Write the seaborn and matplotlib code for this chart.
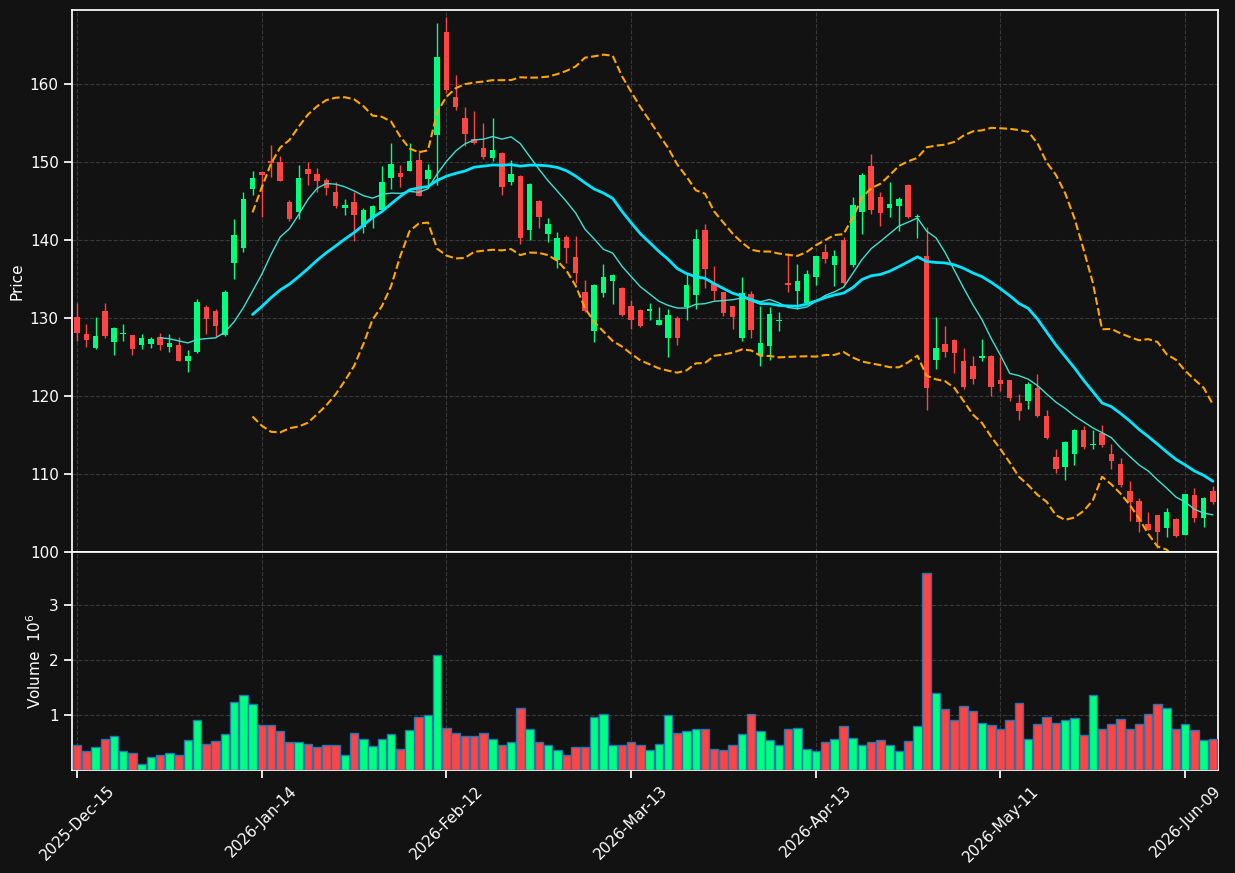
import matplotlib
matplotlib.use("Agg")
import matplotlib.pyplot as plt
import seaborn as sns
import numpy as np
import pandas as pd

# OHLC (one bar per trading day)
opens = [130.1, 127.9, 126.2, 130.9, 126.9, 127.9, 127.8, 126.6, 126.7, 127.6,
         126.3, 126.5, 124.5, 125.6, 131.4, 130.9, 127.8, 137.0, 139.0, 146.5,
         148.7, 150.1, 150.0, 144.9, 143.6, 149.1, 148.5, 147.7, 146.2, 144.1,
         144.9, 141.7, 142.8, 143.9, 147.9, 148.6, 148.9, 150.3, 147.8, 153.5,
         166.7, 158.3, 155.7, 153.0, 151.8, 150.5, 151.1, 147.4, 148.2, 141.3,
         145.0, 140.8, 137.4, 140.4, 137.8, 133.3, 128.4, 133.2, 134.7, 133.9,
         131.6, 131.0, 130.9, 129.1, 127.5, 130.0, 131.4, 132.9, 141.3, 134.4,
         133.3, 131.5, 127.5, 133.1, 125.2, 126.4, 129.6, 134.45, 133.5, 131.9,
         135.3, 138.5, 136.8, 140.0, 136.8, 143.6, 149.5, 145.5, 144.1, 144.4,
         147.1, 142.9, 138.0, 124.6, 126.7, 127.2, 124.5, 123.8, 124.9, 125.1,
         122.05, 122.0, 119.1, 119.4, 121.0, 117.4, 112.2, 110.9, 112.6, 115.6,
         113.7, 115.3, 112.6, 111.3, 107.8, 106.5, 103.6, 104.7, 103.1, 104.2,
         102.2, 107.3, 104.3, 107.8]
highs = [131.9, 129.2, 130.1, 131.9, 128.8, 129.2, 127.8, 127.9, 127.6, 128.1,
         127.9, 127.6, 125.9, 132.4, 131.7, 131.2, 133.6, 142.7, 146.1, 148.9,
         148.8, 152.2, 150.8, 145.1, 149.6, 150.0, 149.2, 147.9, 147.5, 145.3,
         146.2, 144.1, 144.5, 149.5, 152.4, 149.6, 152.4, 151.5, 149.8, 167.8,
         168.6, 161.2, 157.1, 156.5, 155.0, 155.6, 151.3, 150.3, 148.4, 147.3,
         145.1, 142.8, 141.0, 140.6, 140.5, 134.9, 134.3, 136.9, 135.6, 134.0,
         132.3, 131.1, 131.9, 131.4, 131.2, 130.2, 135.7, 141.4, 142.1, 136.7,
         133.4, 131.6, 135.2, 133.5, 131.5, 131.4, 130.8, 138.3, 136.9, 136.1,
         137.9, 139.5, 138.7, 140.4, 145.5, 148.6, 151.0, 146.2, 147.4, 145.5,
         147.2, 143.3, 141.7, 130.1, 129.0, 127.3, 126.1, 125.1, 127.3, 125.2,
         125.0, 122.1, 120.3, 121.8, 122.8, 118.2, 113.2, 114.2, 115.8, 116.2,
         115.6, 116.3, 113.8, 112.0, 109.1, 106.9, 105.1, 104.8, 105.6, 104.4,
         107.4, 108.2, 107.1, 108.4]
lows = [127.0, 126.3, 126.0, 127.5, 125.3, 127.1, 125.3, 126.0, 126.2, 125.9,
        125.7, 124.5, 123.1, 125.5, 128.0, 127.6, 127.7, 135.0, 138.5, 145.8,
        143.0, 148.1, 147.6, 142.5, 142.7, 147.1, 146.1, 145.8, 144.1, 143.2,
        139.9, 140.9, 141.6, 143.8, 146.5, 146.8, 148.9, 145.6, 147.1, 147.1,
        158.9, 156.7, 152.0, 152.3, 150.4, 150.1, 145.8, 147.0, 139.5, 140.0,
        141.6, 139.8, 136.4, 137.0, 134.5, 130.8, 126.9, 132.7, 131.8, 130.2,
        128.6, 128.9, 129.7, 129.1, 125.0, 126.6, 129.7, 131.2, 133.8, 132.3,
        130.2, 128.6, 127.1, 127.5, 123.9, 124.6, 128.4, 133.4, 131.2, 131.8,
        134.2, 137.1, 134.1, 134.4, 136.6, 140.8, 143.3, 141.8, 143.0, 141.1,
        142.8, 140.3, 118.2, 123.5, 125.0, 123.0, 120.9, 121.6, 124.5, 120.0,
        120.7, 119.4, 116.9, 118.3, 117.3, 114.5, 110.1, 109.2, 111.1, 113.2,
        113.2, 113.4, 110.7, 108.3, 104.0, 102.6, 102.8, 100.5, 101.9, 101.9,
        102.2, 103.9, 103.2, 106.2]
closes = [128.1, 127.2, 127.7, 127.7, 128.7, 128.0, 126.0, 127.4, 127.3, 126.6,
          126.8, 124.5, 125.1, 132.0, 129.9, 129.0, 133.3, 140.6, 145.3, 147.9,
          148.4, 149.9, 147.6, 142.7, 147.9, 148.5, 147.6, 146.7, 144.4, 144.5,
          143.2, 143.8, 144.4, 147.4, 149.7, 148.1, 150.1, 145.6, 149.0, 163.5,
          159.2, 157.1, 153.6, 152.5, 150.6, 151.5, 146.8, 148.5, 140.3, 147.2,
          143.0, 142.1, 140.3, 139.0, 135.8, 130.9, 134.2, 135.3, 135.5, 130.4,
          129.7, 129.0, 131.1, 129.7, 130.4, 127.5, 134.2, 140.1, 136.3, 133.5,
          130.6, 130.1, 133.2, 128.5, 126.8, 130.5, 129.8, 134.2, 134.7, 135.6,
          137.9, 137.6, 137.9, 134.5, 144.5, 148.3, 143.8, 143.5, 144.6, 145.3,
          142.9, 143.0, 121.0, 126.1, 125.6, 125.5, 121.1, 122.2, 125.1, 121.1,
          121.5, 119.8, 118.1, 121.6, 117.5, 114.65, 110.6, 114.1, 115.6, 113.4,
          113.8, 113.7, 111.7, 108.6, 106.4, 103.8, 102.8, 102.6, 105.1, 102.0,
          107.4, 104.3, 106.9, 106.4]
# volume in millions
volumes = [0.46, 0.34, 0.41, 0.56, 0.61, 0.34, 0.30, 0.10, 0.23, 0.28,
           0.30, 0.27, 0.54, 0.90, 0.48, 0.52, 0.65, 1.24, 1.37, 1.19,
           0.81, 0.81, 0.70, 0.50, 0.50, 0.48, 0.41, 0.46, 0.46, 0.28,
           0.68, 0.57, 0.43, 0.57, 0.66, 0.39, 0.72, 0.97, 0.99, 2.09,
           0.77, 0.68, 0.61, 0.61, 0.68, 0.57, 0.46, 0.50, 1.13, 0.75,
           0.50, 0.46, 0.36, 0.27, 0.41, 0.41, 0.97, 1.02, 0.46, 0.45,
           0.50, 0.45, 0.36, 0.48, 0.99, 0.68, 0.70, 0.75, 0.74, 0.39,
           0.36, 0.46, 0.66, 1.02, 0.70, 0.54, 0.45, 0.74, 0.77, 0.39,
           0.34, 0.50, 0.56, 0.79, 0.59, 0.46, 0.50, 0.54, 0.46, 0.34,
           0.52, 0.79, 3.57, 1.40, 1.10, 0.90, 1.17, 1.08, 0.86, 0.81,
           0.74, 0.90, 1.22, 0.56, 0.84, 0.97, 0.86, 0.90, 0.95, 0.63,
           1.37, 0.75, 0.84, 0.93, 0.74, 0.83, 1.01, 1.19, 1.13, 0.74,
           0.83, 0.72, 0.54, 0.56]

tick_pos = [0, 20, 40, 60, 80, 100, 120]
tick_labels = ['2025-Dec-15', '2026-Jan-14', '2026-Feb-12', '2026-Mar-13',
               '2026-Apr-13', '2026-May-11', '2026-Jun-09']

df = pd.DataFrame({'Open': opens, 'High': highs, 'Low': lows,
                   'Close': closes, 'Volume': volumes})
df['idx'] = np.arange(len(df))
df['dir'] = np.where(df['Close'] >= df['Open'], 'up', 'down')
df['ma10'] = df['Close'].rolling(10).mean()
df['ma20'] = df['Close'].rolling(20).mean()
sd = df['Close'].rolling(20).std()
df['bb_up'] = df['ma20'] + 2 * sd
df['bb_lo'] = df['ma20'] - 2 * sd

BG = '#121212'
UP = '#00ff7f'
DOWN = '#ff4444'
colors = {'up': UP, 'down': DOWN}

sns.set_theme(style='dark', rc={
    'figure.facecolor': BG, 'axes.facecolor': BG, 'axes.edgecolor': 'white',
    'axes.labelcolor': 'white', 'xtick.color': 'white', 'ytick.color': 'white',
    'text.color': 'white', 'grid.color': '#3a3a3a', 'grid.linestyle': '--',
    'axes.grid': True, 'xtick.bottom': True, 'ytick.left': True,
})

fig = plt.figure(figsize=(12.35, 8.73), dpi=100)
ax = fig.add_axes([0.0583, 0.3677, 0.9279, 0.6209])
axv = fig.add_axes([0.0583, 0.1180, 0.9279, 0.2497], sharex=ax)

# candles
cc = df['dir'].map(colors)
ax.vlines(df['idx'], df['Low'], df['High'], colors=cc, lw=1, zorder=3)
body_lo = np.minimum(df['Open'], df['Close'])
body_h = np.maximum(np.abs(df['Close'] - df['Open']), 0.12)
ax.bar(df['idx'], body_h, bottom=body_lo, width=0.6, color=cc,
       edgecolor=cc, linewidth=0, zorder=4)

sns.lineplot(data=df, x='idx', y='ma10', ax=ax, color='#40e0d0', lw=1, zorder=5)
sns.lineplot(data=df, x='idx', y='ma20', ax=ax, color='#00e5ff', lw=2, zorder=5)
sns.lineplot(data=df, x='idx', y='bb_up', ax=ax, color='orange', lw=1.5, zorder=5)
sns.lineplot(data=df, x='idx', y='bb_lo', ax=ax, color='orange', lw=1.5, zorder=5)
for ln in ax.lines[-2:]:
    ln.set_linestyle('--')

ax.set_ylim(100, 169.5)
ax.set_yticks(range(100, 161, 10))
ax.set_ylabel('Price', fontsize=11)
ax.set_xlabel('')
ax.grid(True, color='#3a3a3a', linestyle='--', lw=0.8)
ax.tick_params(axis='x', labelbottom=False)
ax.tick_params(labelsize=11)

# volume
sns.barplot(data=df, x='idx', y='Volume', hue='dir', palette=colors,
            native_scale=True, dodge=False, width=0.92, saturation=1,
            edgecolor='#1f77b4', linewidth=1, legend=False, ax=axv, zorder=3)
axv.set_ylim(0, 3.96)
axv.set_yticks([1, 2, 3])
axv.set_ylabel('Volume  $10^6$', fontsize=11)
axv.set_xlabel('')
axv.grid(True, color='#3a3a3a', linestyle='--', lw=0.8)
axv.set_xlim(-0.55, len(df) - 0.45)
axv.set_xticks(tick_pos)
axv.set_xticklabels(tick_labels, rotation=45, fontsize=11)
axv.tick_params(labelsize=11)

for a in (ax, axv):
    for s in a.spines.values():
        s.set_color('white')

fig.savefig('out.png', dpi=100, facecolor=BG)
